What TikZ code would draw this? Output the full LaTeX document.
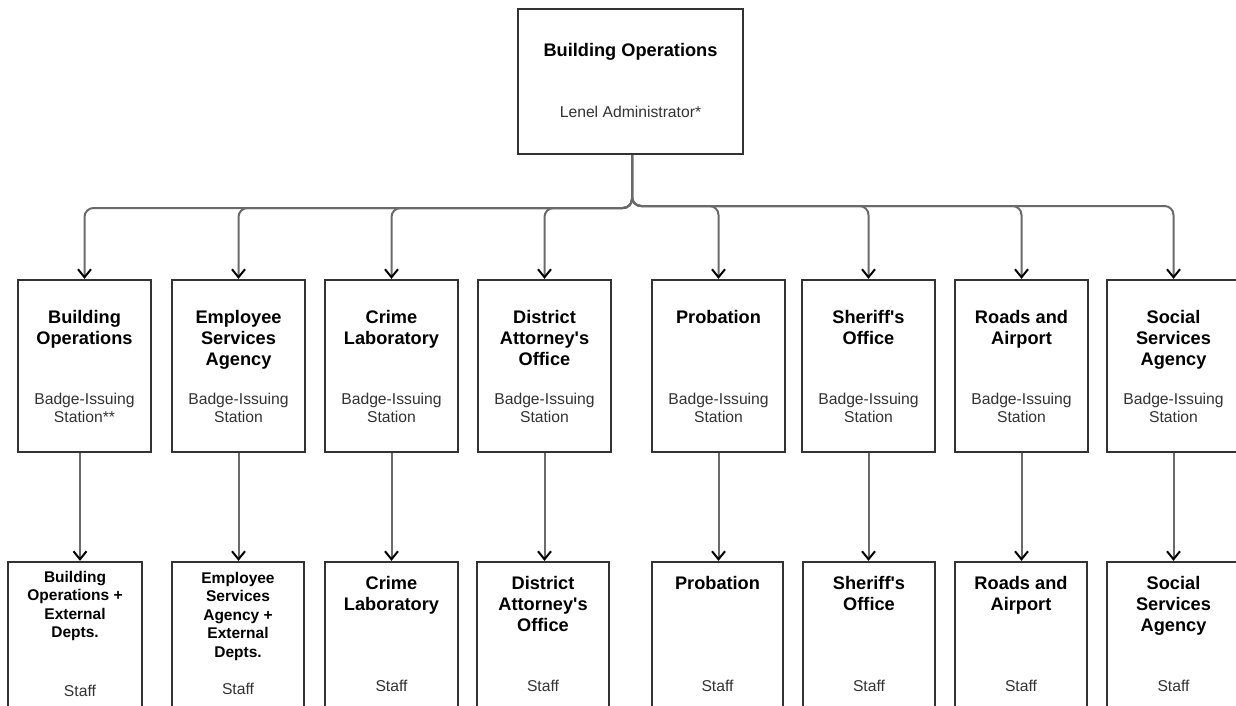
\documentclass[tikz,border=0pt]{standalone}
\usepackage{fontspec}
\setmainfont{Liberation Sans}
\usetikzlibrary{arrows.meta}
\definecolor{boxc}{HTML}{333333}
\definecolor{linec}{HTML}{6A6A6A}
\definecolor{subc}{HTML}{333333}
\newcommand{\ap}{\textquotesingle}
\begin{document}
\begin{tikzpicture}[x=1pt,y=-1pt,
  box/.style={draw=boxc,line width=2.3pt,fill=white,inner sep=0pt,minimum width=#1},
  midbox/.style={box=133pt,minimum height=172pt},
  botbox/.style={box=132pt,minimum height=158pt},
  ttl/.style={anchor=north,inner sep=0pt,align=center,font=\fontsize{18.2}{21}\selectfont\bfseries,text=black},
  ttlsm/.style={anchor=north,inner sep=0pt,align=center,font=\fontsize{15.5}{18.4}\selectfont\bfseries,text=black},
  sub/.style={anchor=north,inner sep=0pt,align=center,font=\fontsize{15.7}{18}\selectfont,text=subc},
  conn/.style={draw=linec,line width=2pt,-{Straight Barb[length=8pt,width=13pt,line width=2pt,color=black]}},
  bus/.style={conn,rounded corners=9pt}
]
\useasboundingbox (0,0) rectangle (1236,706);
\clip (0,0) rectangle (1236,706);

% top box
\node[box=225pt,minimum height=145pt] (top) at (630.5,81.5) {};
\node[ttl] (topt) at (630.5,43) {Building Operations};
\node[sub] (tops) at (630.5,106) {Lenel Administrator*};

% middle row
\node[midbox] (m1) at (84.5,366) {};
\node[midbox] (m2) at (238.5,366) {};
\node[midbox] (m3) at (391.5,366) {};
\node[midbox] (m4) at (544.5,366) {};
\node[midbox] (m5) at (718.5,366) {};
\node[midbox] (m6) at (868.5,366) {};
\node[midbox] (m7) at (1021.5,366) {};
\node[midbox] (m8) at (1173.5,366) {};

\node[ttl] (m1t) at (84.5,310) {Building\\Operations};
\node[ttl] (m2t) at (238.5,310) {Employee\\Services\\Agency};
\node[ttl] (m3t) at (391.5,310) {Crime\\Laboratory};
\node[ttl] (m4t) at (544.5,310) {District\\Attorney\ap s\\Office};
\node[ttl] (m5t) at (718.5,310) {Probation};
\node[ttl] (m6t) at (868.5,310) {Sheriff\ap s\\Office};
\node[ttl] (m7t) at (1021.5,310) {Roads and\\Airport};
\node[ttl] (m8t) at (1173.5,310) {Social\\Services\\Agency};

\node[sub] (m1s) at (84.5,393) {Badge-Issuing\\Station**};
\node[sub] (m2s) at (238.5,393) {Badge-Issuing\\Station};
\node[sub] (m3s) at (391.5,393) {Badge-Issuing\\Station};
\node[sub] (m4s) at (544.5,393) {Badge-Issuing\\Station};
\node[sub] (m5s) at (718.5,393) {Badge-Issuing\\Station};
\node[sub] (m6s) at (868.5,393) {Badge-Issuing\\Station};
\node[sub] (m7s) at (1021.5,393) {Badge-Issuing\\Station};
\node[sub] (m8s) at (1173.5,393) {Badge-Issuing\\Station};

% bottom row
\node[botbox,minimum width=134pt] (b1) at (75,641) {};
\node[botbox] (b2) at (238,641) {};
\node[botbox,minimum width=133pt] (b3) at (391.5,641) {};
\node[botbox] (b4) at (543,641) {};
\node[botbox,minimum width=131pt] (b5) at (717.5,641) {};
\node[botbox] (b6) at (869,641) {};
\node[botbox] (b7) at (1021,641) {};
\node[botbox,minimum width=133pt] (b8) at (1173.5,641) {};

\node[ttlsm] (b1t) at (75,571) {Building\\Operations +\\External\\Depts.};
\node[ttlsm] (b2t) at (238,572) {Employee\\Services\\Agency +\\External\\Depts.};
\node[ttl] (b3t) at (391.5,576.5) {Crime\\Laboratory};
\node[ttl] (b4t) at (543,576.5) {District\\Attorney\ap s\\Office};
\node[ttl] (b5t) at (717.5,576.5) {Probation};
\node[ttl] (b6t) at (869,576.5) {Sheriff\ap s\\Office};
\node[ttl] (b7t) at (1021,576.5) {Roads and\\Airport};
\node[ttl] (b8t) at (1173.5,576.5) {Social\\Services\\Agency};

\node[sub] (b1s) at (80,685) {Staff};
\node[sub] (b2s) at (238,683) {Staff};
\node[sub] (b3s) at (391.5,680) {Staff};
\node[sub] (b4s) at (543,680) {Staff};
\node[sub] (b5s) at (717.5,680) {Staff};
\node[sub] (b6s) at (869,680) {Staff};
\node[sub] (b7s) at (1021,680) {Staff};
\node[sub] (b8s) at (1173.5,680) {Staff};

% connectors from top
\coordinate (trunk) at ([xshift=1.5pt]top.south);
\coordinate (busL) at (0,208);
\coordinate (busR) at (0,206);
\foreach \i in {1,2,3,4}{
  \draw[bus] (trunk) |- (m\i.north |- busL) -- (m\i.north);
}
\foreach \i in {5,6,7,8}{
  \draw[bus] (trunk) |- (m\i.north |- busR) -- (m\i.north);
}

% middle to bottom
\draw[conn] ([xshift=-4.5pt]m1.south) -- ([xshift=5pt]b1.north);
\foreach \i in {2,...,8}{
  \draw[conn] (m\i.south) -- (m\i.south |- b\i.north);
}
\end{tikzpicture}
\end{document}
